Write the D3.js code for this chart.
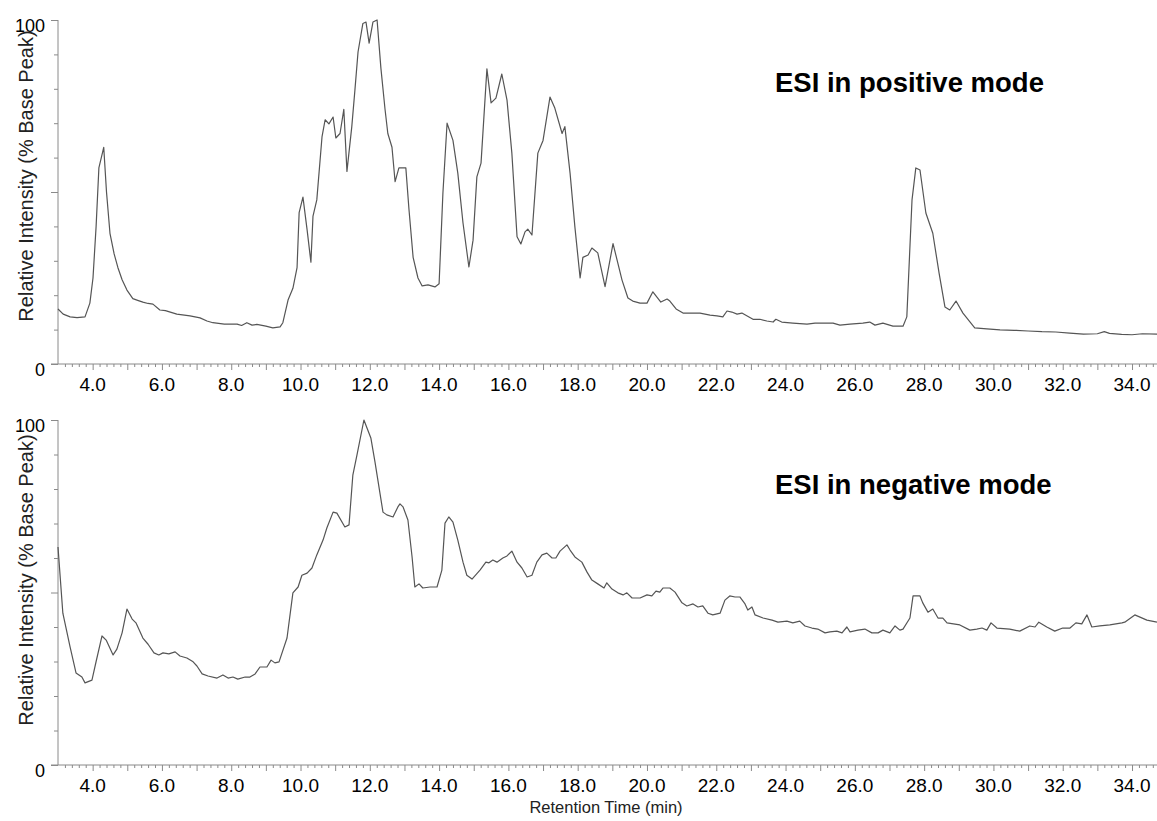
<!DOCTYPE html>
<html lang="en">
<head>
  <meta charset="UTF-8" />
  <title>ESI chromatograms</title>
  <script src="https://d3js.org/d3.v7.min.js"></script>
  <style>
    body { margin: 0; padding: 0; background: white; }
    svg { display: block; font-family: "Liberation Sans", Arial, Helvetica, sans-serif; }
  </style>
</head>
<body>
  <svg id="chart" width="1157" height="821"></svg>

  <script>
    // Retention time (min) and relative intensity (% base peak)
    const posTime = [3.00, 3.15, 3.35, 3.55, 3.78, 3.92, 4.01, 4.10, 4.18, 4.25, 4.32, 4.40, 4.50, 4.62, 4.73, 4.85, 4.99, 5.16, 5.30, 5.45,
      5.60, 5.74, 5.94, 6.10, 6.43, 6.81, 7.10, 7.30, 7.47, 7.80, 8.17, 8.30, 8.45, 8.60, 8.74, 9.00, 9.20, 9.41, 9.49, 9.64,
      9.78, 9.90, 9.96, 10.07, 10.19, 10.30, 10.36, 10.47, 10.62, 10.71, 10.82, 10.94, 11.02, 11.14, 11.25, 11.34, 11.48, 11.57, 11.66, 11.80,
      11.89, 11.98, 12.09, 12.21, 12.32, 12.44, 12.52, 12.64, 12.73, 12.84, 13.04, 13.13, 13.25, 13.39, 13.51, 13.68, 13.88, 14.00, 14.11, 14.23,
      14.40, 14.54, 14.69, 14.86, 14.98, 15.09, 15.21, 15.38, 15.50, 15.64, 15.81, 15.96, 16.10, 16.25, 16.36, 16.48, 16.56, 16.68, 16.85, 17.00,
      17.20, 17.34, 17.55, 17.63, 17.78, 17.92, 18.07, 18.15, 18.30, 18.41, 18.58, 18.79, 19.02, 19.28, 19.45, 19.59, 19.80, 20.00, 20.17, 20.40,
      20.58, 20.66, 20.84, 21.04, 21.33, 21.53, 21.82, 22.02, 22.19, 22.31, 22.45, 22.60, 22.74, 22.88, 23.06, 23.26, 23.46, 23.64, 23.72, 23.89,
      24.21, 24.62, 24.85, 25.05, 25.37, 25.57, 25.86, 26.23, 26.43, 26.58, 26.81, 27.10, 27.39, 27.50, 27.65, 27.76, 27.88, 28.05, 28.25, 28.43,
      28.60, 28.74, 28.92, 29.12, 29.46, 29.81, 30.19, 30.60, 31.00, 31.40, 31.80, 32.20, 32.60, 33.00, 33.20, 33.35, 33.70, 34.00, 34.30, 34.75];
    const posIntensity = [16, 14.5, 13.7, 13.5, 13.7, 17.7, 25, 40, 57, 60, 63, 50, 38, 32, 28, 24.5, 21.5, 19, 18.5, 18,
      17.6, 17.4, 15.7, 15.5, 14.5, 14, 13.4, 12.5, 12, 11.6, 11.6, 11.2, 12, 11.3, 11.5, 11, 10.5, 10.8, 12, 18.6,
      22, 28, 44, 48.5, 39, 29.6, 43, 47.7, 66, 71, 69.8, 71.8, 65.7, 67, 74, 56, 69, 79.6, 90.7, 99,
      99.4, 93.3, 99.4, 100, 86, 74, 67, 63, 53, 57, 57, 45, 31, 25, 22.7, 23, 22.4, 23.3, 49.7, 70,
      65, 55.5, 41, 28.2, 36, 54.4, 58.4, 85.8, 75.9, 77.3, 84.3, 76.7, 61.3, 37, 34.9, 38.4, 39.2, 37.5, 61.3, 65,
      77.6, 74.4, 67, 69, 55.5, 39.8, 25, 31, 31.7, 33.7, 32.3, 22.5, 35, 24.4, 19.2, 18.3, 17.7, 17.7, 21, 18,
      18.9, 18.3, 16, 14.8, 14.8, 14.8, 14.2, 14, 13.7, 15.4, 15.1, 14.5, 14.8, 14, 13, 13, 12.5, 12.2, 13, 12.2,
      11.9, 11.6, 11.9, 11.9, 11.9, 11.3, 11.6, 11.9, 12.2, 11.3, 11.9, 11, 11, 13.7, 47.7, 57, 56.4, 43.9, 38, 26.5,
      16.6, 15.7, 18.3, 14.8, 10.5, 10.2, 9.9, 9.8, 9.6, 9.4, 9.3, 9.0, 8.7, 8.8, 9.4, 8.9, 8.6, 8.5, 8.8, 8.7];

    const negTime = [3.00, 3.14, 3.35, 3.52, 3.69, 3.78, 3.98, 4.10, 4.27, 4.39, 4.59, 4.70, 4.85, 4.99, 5.14, 5.25, 5.45, 5.60, 5.77, 5.91,
      6.03, 6.20, 6.38, 6.52, 6.72, 6.90, 7.01, 7.16, 7.33, 7.59, 7.76, 7.91, 8.05, 8.19, 8.40, 8.54, 8.69, 8.83, 9.03, 9.15,
      9.26, 9.38, 9.61, 9.78, 9.93, 10.04, 10.19, 10.33, 10.47, 10.65, 10.76, 10.94, 11.05, 11.28, 11.40, 11.51, 11.63, 11.83, 12.03, 12.15,
      12.38, 12.49, 12.67, 12.81, 12.87, 12.96, 13.10, 13.22, 13.30, 13.42, 13.53, 13.74, 13.94, 14.08, 14.17, 14.28, 14.40, 14.54, 14.69, 14.80,
      14.95, 15.18, 15.35, 15.44, 15.55, 15.67, 15.84, 15.96, 16.10, 16.25, 16.39, 16.54, 16.68, 16.82, 16.97, 17.11, 17.26, 17.37, 17.49, 17.69,
      17.78, 17.92, 18.12, 18.27, 18.41, 18.58, 18.76, 18.84, 18.99, 19.16, 19.31, 19.42, 19.57, 19.80, 20.00, 20.14, 20.26, 20.37, 20.46, 20.66,
      20.81, 21.01, 21.15, 21.33, 21.47, 21.61, 21.76, 21.90, 22.11, 22.25, 22.39, 22.54, 22.68, 22.83, 22.91, 23.03, 23.12, 23.35, 23.61, 23.78,
      24.04, 24.21, 24.41, 24.56, 24.76, 24.93, 25.14, 25.28, 25.48, 25.63, 25.77, 25.86, 26.09, 26.29, 26.49, 26.67, 26.81, 27.01, 27.16, 27.30,
      27.39, 27.59, 27.68, 27.88, 27.96, 28.11, 28.25, 28.40, 28.54, 28.66, 29.03, 29.32, 29.52, 29.67, 29.81, 29.93, 30.10, 30.47, 30.76, 31.05,
      31.20, 31.31, 31.54, 31.77, 32.00, 32.21, 32.38, 32.55, 32.70, 32.84, 33.07, 33.36, 33.71, 33.79, 34.08, 34.43, 34.72];
    const negIntensity = [63.2, 44, 34.2, 26.7, 25.5, 23.8, 24.6, 30, 37.4, 36.2, 31.9, 33.6, 38.3, 45.2, 42.3, 41.2, 36.8, 35, 32.5, 31.9,
      32.5, 32.2, 32.8, 31.6, 31, 29.9, 28.7, 26.4, 25.8, 25.2, 26.1, 25.2, 25.5, 24.9, 25.5, 25.5, 26.4, 28.4, 28.4, 30.4,
      29.6, 29.9, 36.8, 49.9, 51.6, 55, 55.6, 57.1, 60.9, 65.2, 68.7, 73.3, 73, 69, 69.6, 84, 89.9, 100, 94.8, 87.8,
      73.3, 72.5, 71.9, 74.8, 75.7, 74.8, 71, 60.3, 51.6, 52.5, 51.3, 51.6, 51.6, 56.5, 70.1, 71.9, 70.4, 65.2, 58.8, 55,
      53.9, 56.5, 58.8, 58.6, 59.4, 58.8, 60, 60.6, 62, 58.8, 57.1, 54.5, 55, 58.8, 60.9, 61.4, 60, 60, 62, 63.8,
      62.3, 60.3, 58.8, 55.9, 53.6, 52.5, 51.3, 52.8, 51, 49.9, 49.3, 49.9, 48.4, 48.4, 49.3, 49, 50.4, 50.1, 51.3, 51.3,
      50.1, 47, 46.1, 46.7, 45.8, 46.1, 44, 43.5, 44, 47.8, 49, 48.7, 48.7, 46.7, 44.9, 45.8, 43.5, 42.6, 42, 41.4,
      41.7, 41.2, 41.7, 40.3, 39.7, 39.4, 38.3, 38.6, 38.8, 38.3, 40, 38.6, 39.1, 39.4, 38.3, 38.3, 39.1, 38.3, 40.3, 39.1,
      39.4, 42.6, 49, 49, 47, 44.3, 45.2, 42.6, 42.6, 41.2, 40.6, 39.1, 39.4, 39.7, 39.1, 41.2, 39.7, 39.4, 38.8, 40.3,
      40, 41.4, 40, 38.8, 39.7, 39.7, 41.2, 40.9, 43.5, 40, 40.3, 40.6, 41.2, 41.4, 43.5, 42, 41.4];

    const panelLabels = ["ESI in positive mode", "ESI in negative mode"];
    const xLabelValues = d3.range(4, 35, 2);

    const svg = d3.select("#chart");
    const left = 58, right = 1158;

    const x = d3.scaleLinear().domain([3, 34.75]).range([left, right]);

    const panels = [
      { time: posTime, value: posIntensity, top: 20, bottom: 364, label: panelLabels[0], labelY: 92, titleY: 176 },
      { time: negTime, value: negIntensity, top: 420, bottom: 765, label: panelLabels[1], labelY: 494, titleY: 580 }
    ];

    const axisColor = "#8a8a8a";

    panels.forEach(p => {
      const y = d3.scaleLinear().domain([0, 100]).range([p.bottom, p.top]);
      const g = svg.append("g");

      // y axis: minor ticks every 10, longer at 0/50/100
      g.append("g")
        .attr("transform", `translate(${left},0)`)
        .call(d3.axisLeft(y).tickValues(d3.range(10, 100, 10).filter(d => d !== 50)).tickSize(4).tickFormat("").tickSizeOuter(0))
        .call(a => a.select(".domain").remove());
      g.append("g")
        .attr("transform", `translate(${left},0)`)
        .call(d3.axisLeft(y).tickValues([0, 50, 100]).tickSize(7).tickFormat("").tickSizeOuter(0))
        .call(a => a.select(".domain").remove());
      g.append("line")
        .attr("x1", left).attr("x2", left)
        .attr("y1", y(100)).attr("y2", y(0))
        .attr("stroke", axisColor);

      [0, 100].forEach(v => {
        g.append("text")
          .attr("x", 45)
          .attr("y", y(v) + 11.5)
          .attr("text-anchor", "end")
          .attr("font-size", 18)
          .text(v);
      });

      // x axis
      g.append("g")
        .attr("transform", `translate(0,${p.bottom})`)
        .call(d3.axisBottom(x).tickValues(d3.range(3.2, 34.75, 0.2).filter(d => Math.abs(d - Math.round(d)) > 0.01)).tickSize(3).tickFormat("").tickSizeOuter(0))
        .call(a => a.select(".domain").remove());
      g.append("g")
        .attr("transform", `translate(0,${p.bottom})`)
        .call(d3.axisBottom(x).tickValues(d3.range(4, 35, 1)).tickSize(6).tickFormat("").tickSizeOuter(0))
        .call(a => a.select(".domain").remove());
      g.append("line")
        .attr("x1", 51).attr("x2", right)
        .attr("y1", p.bottom).attr("y2", p.bottom)
        .attr("stroke", axisColor);

      g.selectAll(".xl")
        .data(xLabelValues)
        .enter()
        .append("text")
        .attr("x", d => x(d))
        .attr("y", p.bottom + 27)
        .attr("text-anchor", "middle")
        .attr("font-size", 19)
        .text(d => d.toFixed(1));

      g.selectAll(".tick line").attr("stroke", axisColor);

      // y axis title
      g.append("text")
        .attr("transform", `translate(33,${p.titleY}) rotate(-90)`)
        .attr("text-anchor", "middle")
        .attr("font-size", 20)
        .attr("fill", "#222")
        .text("Relative Intensity (% Base Peak)");

      // trace
      const pts = p.time.map((t, i) => [t, p.value[i]]);
      g.append("path")
        .datum(pts)
        .attr("fill", "none")
        .attr("stroke", "#555")
        .attr("stroke-width", 1.2)
        .attr("stroke-linejoin", "round")
        .attr("d", d3.line().x(d => x(d[0])).y(d => y(d[1])));

      g.append("text")
        .attr("x", 775)
        .attr("y", p.labelY)
        .attr("font-size", 27.5)
        .attr("font-weight", "bold")
        .text(p.label);
    });

    svg.append("text")
      .attr("x", 606)
      .attr("y", 813)
      .attr("text-anchor", "middle")
      .attr("font-size", 16.5)
      .attr("fill", "#222")
      .text("Retention Time (min)");
  </script>
</body>
</html>
